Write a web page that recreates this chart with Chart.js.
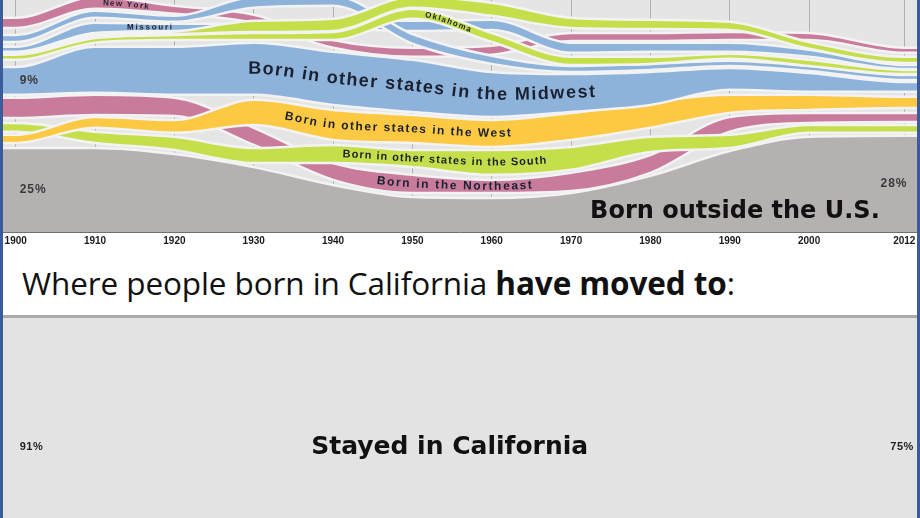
<!DOCTYPE html>
<html>
<head>
<meta charset="utf-8">
<script src="https://cdn.jsdelivr.net/npm/chart.js@4.4.1/dist/chart.umd.min.js"></script>
<style>
  html, body { margin: 0; padding: 0; background: #fff; }
  #wrap { position: relative; width: 920px; height: 518px; overflow: hidden; background: #fff; }
  #top { position: absolute; left: 0; top: 0; }
  #bottom { position: absolute; left: 0; top: 318px; }
  #title { position: absolute; left: 22px; top: 267px; font-family: "Open Sans", sans-serif; font-size: 31.5px;
           line-height: 31px; color: #111; white-space: nowrap; letter-spacing: -0.1px; }
  #title b { font-weight: 700; }
  #sep { position: absolute; left: 0; top: 315px; width: 920px; height: 3px; background: #a9a9a9; }
  .edge { position: absolute; top: 0; width: 3px; height: 518px; background: #3b5b9b; }
</style>
</head>
<body>
<div id="wrap">
  <canvas id="top" width="920" height="250"></canvas>
  <div id="title">Where people born in California <b>have moved to</b>:</div>
  <div id="sep"></div>
  <canvas id="bottom" width="920" height="200"></canvas>
  <div class="edge" style="left:0"></div>
  <div class="edge" style="right:0"></div>
</div>
<script>
// census years and axis ticks
const years = [1900, 1910, 1920, 1930, 1940, 1950, 1960, 1970, 1980, 1990, 2000, 2012];
const tickYears = [1900, 1910, 1920, 1930, 1940, 1950, 1960, 1970, 1980, 1990, 2000, 2012];
const xMin = 1898.4, xMax = 2013.6;

// top chart: where California residents were born (% of residents, bands stacked with gaps)
const bornAbroad     = [25.0, 25.0, 23.2, 19.3, 14.0, 10.4, 10.1, 11.6, 16.7, 24.1, 28.3, 28.6];
const northeastLow   = [33.9, 34.8, 34.5, 25.9, 15.5, 11.6, 11.6, 12.2, 17.6, 29.8, 32.4, 32.7];
const northeastHigh  = [39.9, 40.8, 39.9, 31.0, 20.5, 17.0, 15.5, 17.6, 22.9, 34.2, 35.4, 35.4];
const southLow       = [29.8, 26.5, 24.4, 20.5, 20.5, 19.3, 17.0, 18.5, 23.8, 25.0, 29.5, 29.5];
const southHigh      = [32.4, 29.8, 28.3, 25.0, 25.9, 24.4, 24.4, 25.3, 28.3, 28.9, 31.8, 31.8];
const westLow        = [26.5, 31.0, 29.5, 31.8, 27.4, 26.5, 25.3, 27.4, 31.0, 35.4, 36.3, 36.9];
const westHigh       = [28.9, 34.2, 33.3, 39.3, 36.3, 34.8, 33.3, 35.4, 38.7, 40.8, 40.8, 40.2];
const midwestLow     = [40.8, 41.4, 40.8, 40.8, 37.8, 35.7, 34.2, 35.7, 37.8, 42.3, 41.7, 41.7];
const midwestHigh    = [49.1, 55.1, 55.1, 56.3, 53.6, 51.2, 47.6, 47.0, 47.6, 48.8, 47.3, 44.6];
const newYorkLow     = [60.7, 66.4, 64.9, 62.2, 54.8, 52.1, 52.7, 56.8, 56.8, 57.1, 57.1, 53.3];
const newYorkHigh    = [63.7, 69.9, 67.3, 64.6, 57.1, 54.8, 55.4, 59.2, 59.2, 59.5, 59.2, 54.8];
const missouriLow    = [53.6, 59.2, 59.8, 60.1, 60.4, 59.8, 60.1, 53.3, 53.6, 53.6, 52.1, 48.5];
const missouriHigh   = [55.1, 62.2, 61.9, 61.9, 62.8, 62.8, 63.1, 56.3, 56.3, 56.3, 54.2, 49.7];
const upperBlueLow   = [56.5, 63.7, 62.5, 66.7, 67.3, 56.0, 50.0, 47.6, 48.2, 49.4, 47.9, 45.2];
const upperBlueHigh  = [58.6, 65.8, 64.3, 69.9, 70.2, 58.9, 52.4, 49.4, 50.0, 50.9, 49.4, 46.7];
const oklahomaLow    = [51.2, 56.3, 57.1, 57.1, 57.1, 63.4, 56.5, 49.7, 50.0, 51.5, 49.4, 47.0];
const oklahomaHigh   = [52.7, 57.7, 58.6, 59.2, 59.5, 66.4, 59.2, 52.1, 52.1, 53.0, 51.2, 48.2];
const southStateLow  = [53.2, 58.5, 58.9, 59.5, 59.8, 66.7, 64.3, 60.7, 60.4, 60.1, 54.5, 50.3];
const southStateHigh = [53.2, 58.5, 59.6, 62.8, 63.4, 69.9, 68.2, 63.7, 63.1, 62.5, 56.5, 52.1];

// bottom chart: people born in California who stayed (%)
const stayedInCalifornia = [91, 90, 90, 89, 88, 86, 85, 83, 81, 79, 77, 75];

const grayC = '#b5b1b1', pinkC = '#c97b9c', limeC = '#c5df4b', yellowC = '#fdc842', blueC = '#8eb3db';
const edgeC = '#f3f3f3';

const bands = [
  { low: null, high: bornAbroad, color: grayC },
  { low: northeastLow, high: northeastHigh, color: pinkC },
  { low: southLow, high: southHigh, color: limeC },
  { low: westLow, high: westHigh, color: yellowC },
  { low: midwestLow, high: midwestHigh, color: blueC },
  { low: newYorkLow, high: newYorkHigh, color: pinkC },
  { low: missouriLow, high: missouriHigh, color: blueC },
  { low: upperBlueLow, high: upperBlueHigh, color: blueC },
  { low: oklahomaLow, high: oklahomaHigh, color: limeC },
  { low: southStateLow, high: southStateHigh, color: limeC }
];

const curvedLabels = [
  { text: 'Born in other states in the Midwest', band: 4, from: 1929.3, size: 18, spacing: 1.3 },
  { text: 'Born in other states in the West', band: 3, from: 1933.9, size: 12, spacing: 1.4 },
  { text: 'Born in other states in the South', band: 2, from: 1941.2, size: 11, spacing: 0.9 },
  { text: 'Born in the Northeast', band: 1, from: 1945.5, size: 12, spacing: 1.5 },
  { text: 'New York', band: 5, from: 1911.0, size: 8, spacing: 1.2 },
  { text: 'Missouri', band: 6, from: 1914.0, size: 8, spacing: 1.6 },
  { text: 'Oklahoma', band: 8, from: 1951.6, size: 8, spacing: 1.2 }
];

// series points, with the first and last values carried out to the plot edges
const pt = arr => [{ x: xMin, y: arr[0] }]
  .concat(years.map((yr, i) => ({ x: yr, y: arr[i] })))
  .concat([{ x: xMax, y: arr[arr.length - 1] }]);

const datasets = [];
bands.forEach((b, k) => {
  const line = { pointRadius: 0, borderColor: edgeC, borderWidth: 2.5, cubicInterpolationMode: 'monotone' };
  if (!b.low) {
    b.highIndex = datasets.length;
    datasets.push({ ...line, data: pt(b.high), fill: 'origin', backgroundColor: b.color, order: 1000 - 2 * k });
  } else {
    b.lowIndex = datasets.length;
    datasets.push({ ...line, data: pt(b.low), fill: false, order: 999 - 2 * k });
    b.highIndex = datasets.length;
    datasets.push({ ...line, data: pt(b.high), fill: '-1', backgroundColor: b.color, order: 1000 - 2 * k });
  }
});

const bez = (p0, p1, p2, p3, t) => {
  const u = 1 - t;
  return u * u * u * p0 + 3 * u * u * t * p1 + 3 * u * t * t * p2 + t * t * t * p3;
};

function curveY(meta, px) {
  const pts = meta.data;
  if (px <= pts[0].x) return pts[0].y;
  for (let i = 0; i < pts.length - 1; i++) {
    const a = pts[i], b = pts[i + 1];
    if (px > b.x) continue;
    const c1x = a.cp2x ?? a.x, c1y = a.cp2y ?? a.y, c2x = b.cp1x ?? b.x, c2y = b.cp1y ?? b.y;
    let lo = 0, hi = 1, t = 0.5;
    for (let n = 0; n < 25; n++) {
      t = (lo + hi) / 2;
      if (bez(a.x, c1x, c2x, b.x, t) < px) lo = t; else hi = t;
    }
    return bez(a.y, c1y, c2y, b.y, t);
  }
  return pts[pts.length - 1].y;
}

function drawAlong(chart, lab) {
  const b = bands[lab.band];
  const lowM = chart.getDatasetMeta(b.lowIndex), highM = chart.getDatasetMeta(b.highIndex);
  lowM.dataset.updateControlPoints(chart.chartArea, 'x');
  highM.dataset.updateControlPoints(chart.chartArea, 'x');
  const mid = px => (curveY(lowM, px) + curveY(highM, px)) / 2;
  const advance = (x, dist) => {
    let s = 0, y = mid(x);
    while (s < dist) { const nx = x + 0.25, ny = mid(nx); s += Math.hypot(0.25, ny - y); x = nx; y = ny; }
    return x;
  };
  const ctx = chart.ctx;
  ctx.save();
  ctx.font = 'bold ' + lab.size + 'px "Liberation Sans", Arial, sans-serif';
  ctx.fillStyle = '#1b2130';
  ctx.textAlign = 'center';
  ctx.textBaseline = 'middle';
  let x = chart.scales.x.getPixelForValue(lab.from);
  for (const ch of lab.text) {
    const w = ctx.measureText(ch).width;
    const xm = advance(x, w / 2);
    const ang = Math.atan2(mid(xm + 2) - mid(xm - 2), 4);
    ctx.save();
    ctx.translate(xm, mid(xm));
    ctx.rotate(ang);
    ctx.fillText(ch, 0, 0);
    ctx.restore();
    x = advance(x, w + lab.spacing);
  }
  ctx.restore();
}

const bgPlugin = {
  id: 'bg',
  beforeDraw(chart, args, opts) {
    const { ctx, chartArea: a } = chart;
    ctx.save();
    ctx.fillStyle = opts.color;
    ctx.fillRect(a.left, a.top, a.right - a.left, a.bottom - a.top);
    ctx.restore();
  }
};

const topLabels = {
  id: 'topLabels',
  afterDraw(chart) {
    const ctx = chart.ctx, xs = chart.scales.x, ys = chart.scales.y;
    curvedLabels.forEach(lab => drawAlong(chart, lab));
    ctx.save();
    ctx.fillStyle = '#3a3a3a';
    ctx.font = 'bold 12px "Liberation Sans", Arial, sans-serif';
    ctx.letterSpacing = '1px';
    ctx.textBaseline = 'middle';
    ctx.textAlign = 'left';
    ctx.fillText('9%', xs.getPixelForValue(1900.5), ys.getPixelForValue((midwestLow[0] + midwestHigh[0]) / 2));
    ctx.fillText('25%', xs.getPixelForValue(1900.5), ys.getPixelForValue(bornAbroad[0] / 2));
    ctx.textAlign = 'right';
    ctx.fillText('28%', xs.getPixelForValue(2012.4), ys.getPixelForValue(bornAbroad[bornAbroad.length - 1] / 2));
    ctx.letterSpacing = '0px';
    ctx.fillStyle = '#111';
    ctx.textAlign = 'left';
    ctx.font = 'bold 24px "DejaVu Sans", sans-serif';
    ctx.fillText('Born outside the U.S.', xs.getPixelForValue(1972.4), ys.getPixelForValue(6));
    ctx.restore();
  }
};

const fitAxis = h => scale => { scale.height = h; scale.paddingLeft = 0; scale.paddingRight = 0; };
const setTicks = scale => { scale.ticks = tickYears.map(v => ({ value: v })); };

new Chart(document.getElementById('top'), {
  type: 'line',
  data: { datasets },
  options: {
    responsive: false,
    animation: false,
    events: [],
    layout: { padding: { left: 3, right: 3, top: 0, bottom: 0 } },
    elements: { line: { capBezierPoints: false } },
    plugins: { legend: { display: false }, tooltip: { enabled: false }, bg: { color: '#e5e5e5' } },
    scales: {
      x: {
        type: 'linear', min: xMin, max: xMax, z: 1,
        afterBuildTicks: setTicks,
        afterFit: fitAxis(18),
        grid: { color: 'rgba(70,70,70,0.33)', lineWidth: 1, drawTicks: false },
        border: { display: true, color: '#707070', width: 1 },
        ticks: { padding: 3, color: '#1a1a1a', font: { family: '"Liberation Sans", Arial, sans-serif', size: 10, weight: 'bold' },
                 callback: v => String(v), maxRotation: 0, autoSkip: false }
      },
      y: { display: false, min: 0, max: 69 }
    }
  },
  plugins: [bgPlugin, topLabels]
});

const bottomLabels = {
  id: 'bottomLabels',
  afterDraw(chart) {
    const ctx = chart.ctx, xs = chart.scales.x, a = chart.chartArea;
    const y = a.top + (a.bottom - a.top) * 0.645;
    ctx.save();
    ctx.fillStyle = '#222';
    ctx.textBaseline = 'middle';
    ctx.font = 'bold 11px "Liberation Sans", Arial, sans-serif';
    ctx.letterSpacing = '0.5px';
    ctx.textAlign = 'left';
    ctx.fillText(stayedInCalifornia[0] + '%', xs.getPixelForValue(1900.5), y);
    ctx.textAlign = 'right';
    ctx.fillText(stayedInCalifornia[stayedInCalifornia.length - 1] + '%', xs.getPixelForValue(2013.2), y);
    ctx.letterSpacing = '0px';
    ctx.fillStyle = '#111';
    ctx.textAlign = 'center';
    ctx.font = 'bold 25px "DejaVu Sans", sans-serif';
    ctx.fillText('Stayed in California', xs.getPixelForValue(1954.7), y);
    ctx.restore();
  }
};

new Chart(document.getElementById('bottom'), {
  type: 'line',
  data: {
    datasets: [{
      data: pt(stayedInCalifornia), fill: 'origin', backgroundColor: '#e3e3e3',
      borderWidth: 0, pointRadius: 0, cubicInterpolationMode: 'monotone'
    }]
  },
  options: {
    responsive: false,
    animation: false,
    events: [],
    layout: { padding: { left: 3, right: 3, top: 0, bottom: 0 } },
    plugins: { legend: { display: false }, tooltip: { enabled: false }, bg: { color: '#e3e3e3' } },
    scales: {
      x: {
        type: 'linear', min: xMin, max: xMax, z: 1,
        afterBuildTicks: setTicks,
        afterFit: fitAxis(0),
        grid: { color: '#c8c8c8', lineWidth: 1, drawTicks: false },
        border: { display: false },
        ticks: { display: false }
      },
      y: { display: false, min: 0, max: 60 }
    }
  },
  plugins: [bgPlugin, bottomLabels]
});
</script>
</body>
</html>
